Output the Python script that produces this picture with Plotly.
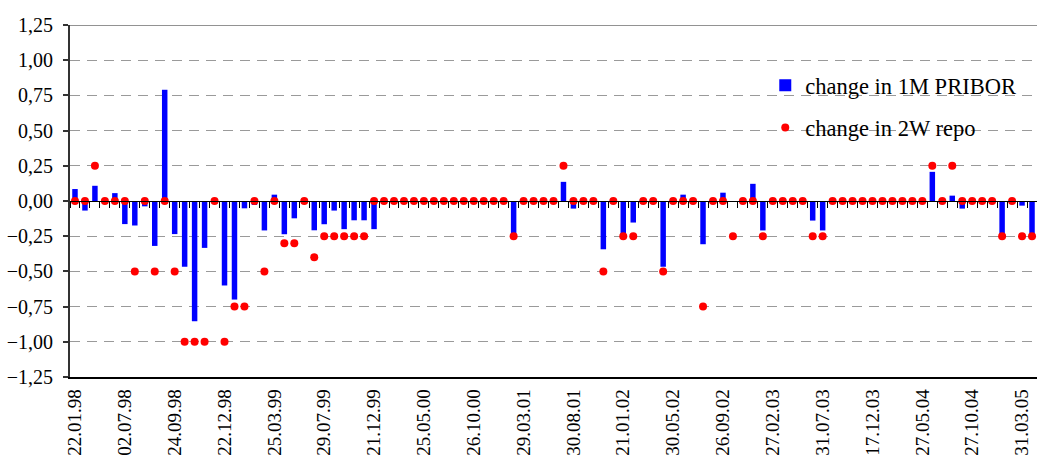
import plotly.graph_objects as go

# 97 policy meetings (category index), labelled every 5th meeting
n_meetings = 97
meeting_idx = list(range(n_meetings))

tick_idx = [0, 5, 10, 15, 20, 25, 30, 35, 40, 45, 50, 55, 60, 65, 70, 75, 80, 85, 90, 95]
tick_labels = ["22.01.98", "02.07.98", "24.09.98", "22.12.98", "25.03.99", "29.07.99",
               "21.12.99", "25.05.00", "26.10.00", "29.03.01", "30.08.01", "21.01.02",
               "30.05.02", "26.09.02", "27.02.03", "31.07.03", "17.12.03", "27.05.04",
               "27.10.04", "31.03.05"]

change_1m_pribor = [
    0.085, -0.068, 0.108, 0.0, 0.056, -0.164, -0.174, -0.038, -0.319, 0.79,
    -0.235, -0.467, -0.854, -0.333, 0.0, -0.60, -0.70, -0.052, -0.028, -0.209,
    0.045, -0.236, -0.123, 0.0, -0.208, -0.165, -0.068, -0.20, -0.137, -0.137,
    -0.20, 0.0, 0.0, 0.0, 0.0, 0.0, 0.0, 0.0, 0.0, 0.0,
    0.0, 0.0, 0.0, 0.0, -0.24, 0.0, 0.0, 0.0, 0.0, 0.136,
    -0.054, 0.0, 0.0, -0.343, 0.0, -0.24, -0.153, 0.0, 0.0, -0.467,
    0.0, 0.045, -0.016, -0.307, 0.0, 0.059, 0.0, 0.0, 0.122, -0.209,
    0.0, 0.0, 0.0, -0.016, -0.139, -0.209, 0.0, 0.0, 0.0, 0.0,
    0.0, 0.0, 0.0, 0.0, 0.0, 0.0, 0.207, 0.0, 0.038, -0.054,
    0.0, 0.0, 0.0, -0.256, 0.0, -0.033, -0.24,
]

change_2w_repo = [
    0.0, 0.0, 0.25, 0.0, 0.0, 0.0, -0.5, 0.0, -0.5, 0.0,
    -0.5, -1.0, -1.0, -1.0, 0.0, -1.0, -0.75, -0.75, 0.0, -0.5,
    0.0, -0.3, -0.3, 0.0, -0.4, -0.25, -0.25, -0.25, -0.25, -0.25,
    0.0, 0.0, 0.0, 0.0, 0.0, 0.0, 0.0, 0.0, 0.0, 0.0,
    0.0, 0.0, 0.0, 0.0, -0.25, 0.0, 0.0, 0.0, 0.0, 0.25,
    0.0, 0.0, 0.0, -0.5, 0.0, -0.25, -0.25, 0.0, 0.0, -0.5,
    0.0, 0.0, 0.0, -0.75, 0.0, 0.0, -0.25, 0.0, 0.0, -0.25,
    0.0, 0.0, 0.0, 0.0, -0.25, -0.25, 0.0, 0.0, 0.0, 0.0,
    0.0, 0.0, 0.0, 0.0, 0.0, 0.0, 0.25, 0.0, 0.25, 0.0,
    0.0, 0.0, 0.0, -0.25, 0.0, -0.25, -0.25,
]

FONT = "Liberation Serif, Times New Roman, serif"
xr = [-0.5, n_meetings - 0.5]

fig = go.Figure()
fig.add_trace(go.Bar(
    x=meeting_idx, y=change_1m_pribor, name="change in 1M PRIBOR",
    marker=dict(color="#0000ff", line=dict(width=0)),
    legendgroup="a",
))
fig.add_trace(go.Scatter(
    x=meeting_idx, y=change_2w_repo, name="change in 2W repo", mode="markers",
    marker=dict(color="#ff0000", size=8),
    legendgroup="b",
))
# helper trace for the zero-line axis carrying the category tick marks
fig.add_trace(go.Scatter(x=[0], y=[0], xaxis="x2", mode="none",
                         showlegend=False, hoverinfo="skip"))

fig.update_layout(
    width=1037, height=465,
    margin=dict(l=70, r=0, t=25, b=88),
    paper_bgcolor="white", plot_bgcolor="white",
    font=dict(family=FONT, size=20, color="black"),
    separators=", ",
    bargap=0.45,
    showlegend=True,
    legend=dict(
        x=0.719, y=0.889, xanchor="left", yanchor="top",
        font=dict(family=FONT, size=22.5, color="black"),
        bgcolor="rgba(0,0,0,0)", traceorder="grouped", tracegroupgap=10,
        itemwidth=30,
    ),
    xaxis=dict(
        range=xr, tickmode="array", tickvals=tick_idx, ticktext=tick_labels,
        tickangle=-90, ticks="", showgrid=False, zeroline=False,
        showline=True, linecolor="black", linewidth=1.5,
        tickfont=dict(family=FONT, size=19, color="black"),
        ticklabelstandoff=3,
    ),
    xaxis2=dict(
        overlaying="x", anchor="free", position=0.5, range=xr,
        tickmode="array", tickvals=[i - 0.5 for i in range(n_meetings + 1)],
        ticks="outside", ticklen=6, tickwidth=1, tickcolor="black",
        showticklabels=False, showgrid=False, zeroline=False,
        showline=True, linecolor="black", linewidth=1.2,
    ),
    yaxis=dict(
        range=[-1.25, 1.25], tick0=0, dtick=0.25, tickformat=".2f",
        ticks="outside", ticklen=5, tickcolor="#333333", tickwidth=1.5,
        showline=True, linecolor="#333333", linewidth=2,
        showgrid=True, gridcolor="#9a9a9a", gridwidth=1, griddash="10px,7px",
        zeroline=False,
        tickfont=dict(family=FONT, size=20, color="black"),
        ticklabelstandoff=6,
    ),
)
fig.add_shape(type="line", xref="paper", yref="y", x0=0, x1=1, y0=1.25, y1=1.25,
              line=dict(color="#6e6e6e", width=1.5))

fig.write_html(
    "out.html",
    config={"displayModeBar": False},
    post_script="document.body.style.margin='0px';document.body.style.overflow='hidden';",
)
